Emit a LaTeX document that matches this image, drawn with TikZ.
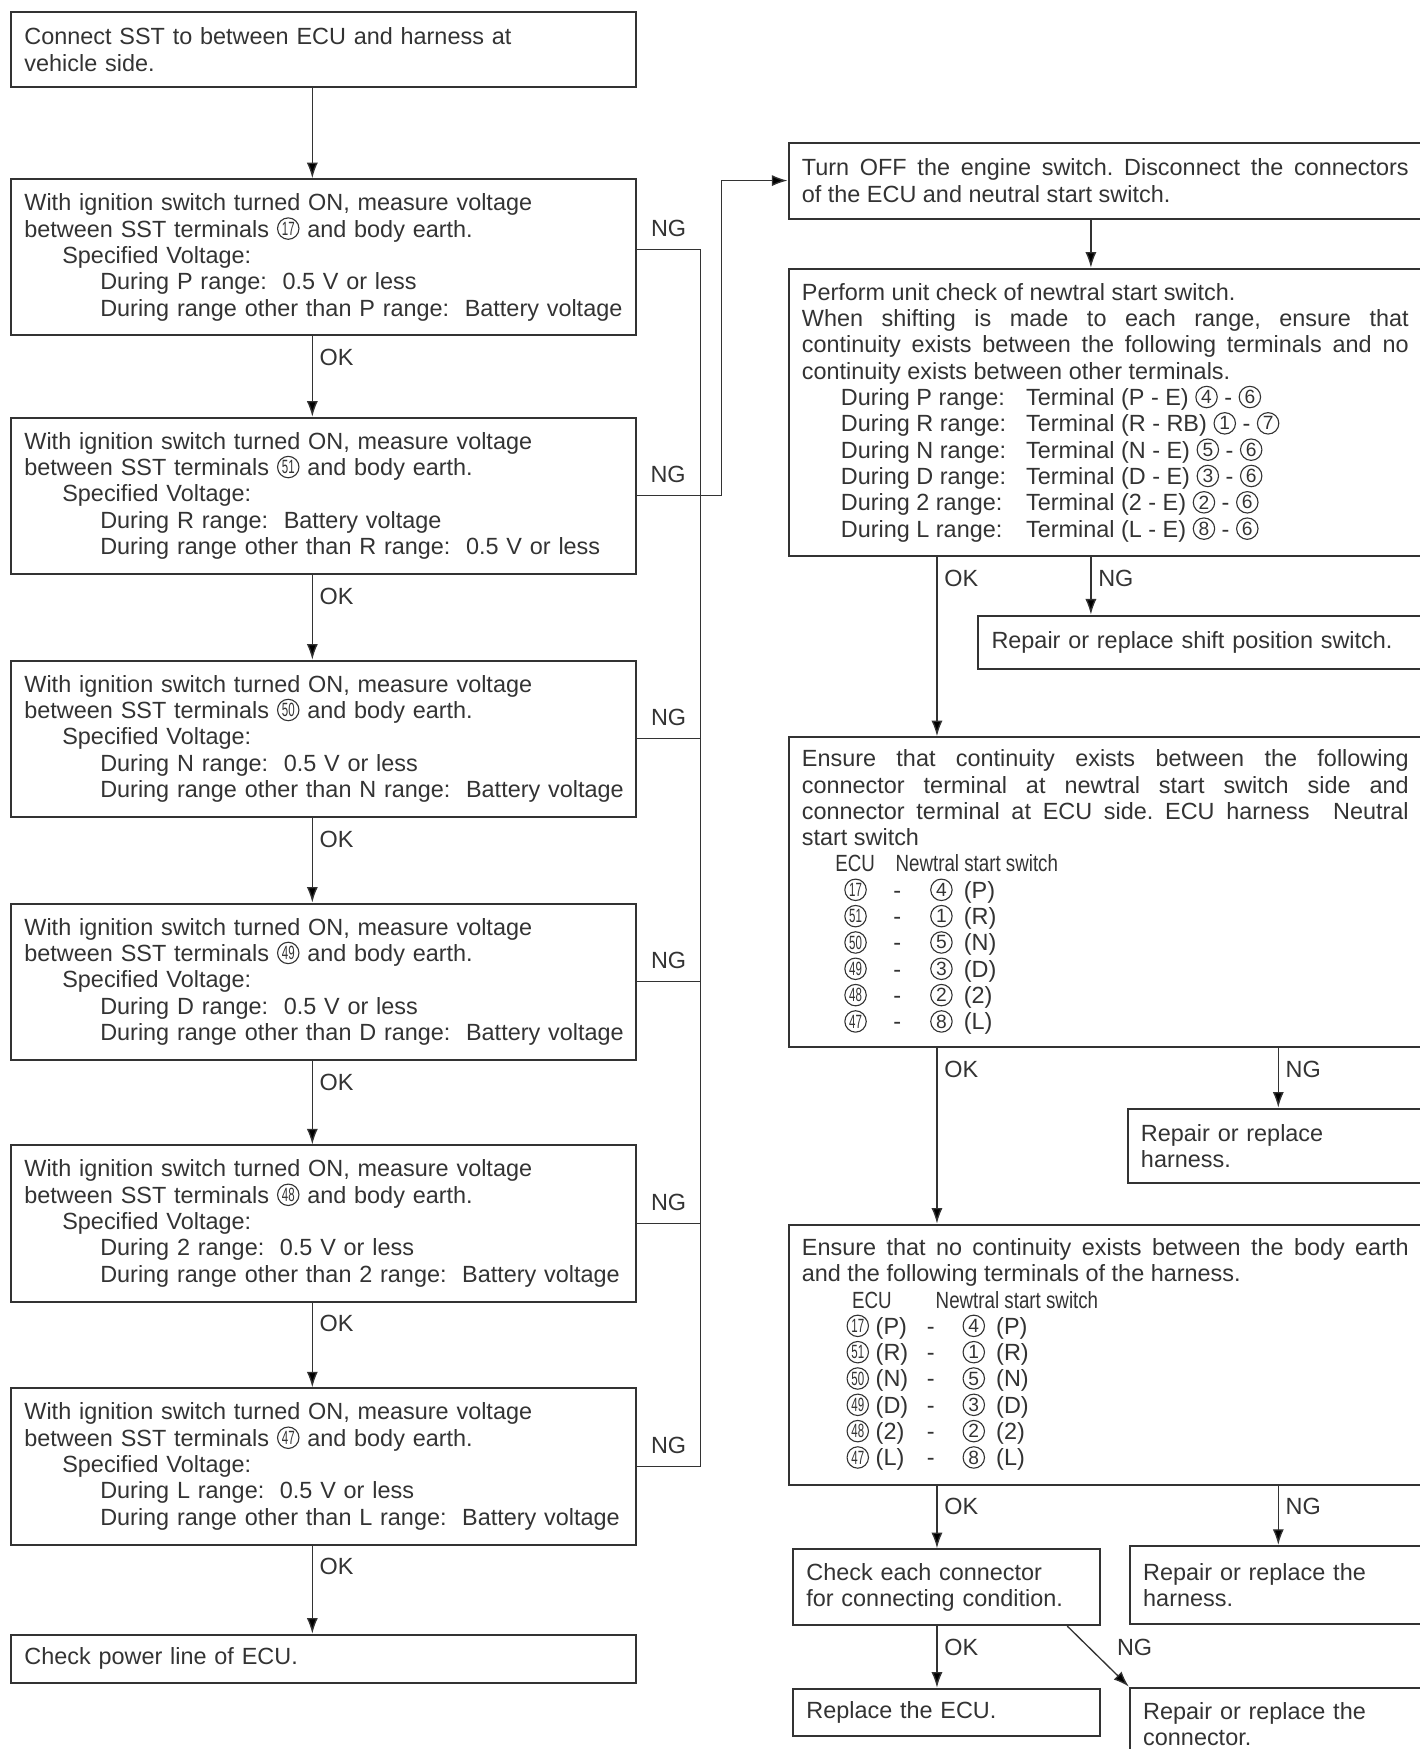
\documentclass[tikz,border=0pt]{standalone}
\usepackage{fontspec}
\setmainfont{Liberation Sans}
\usepackage{graphicx}
\usetikzlibrary{arrows.meta,positioning}
\setlength{\parindent}{0pt}
\frenchspacing

\newcommand\cnum[1]{\tikz[baseline={([yshift=-3.8pt]cn.center)}]\node[circle,draw,line width=0.5pt,inner sep=0pt,minimum size=9.6pt] (cn) {\fontsize{8.6}{8.6}\selectfont\ifnum#1>9 \scalebox{0.6}[1]{#1}\else#1\fi};}
\newcommand\cond[1]{\scalebox{0.8}[1]{#1}}
\newcommand\rng[1]{\makebox[83pt][l]{During #1 range:}}
\newcommand\voltcheck[4]{With ignition switch turned ON, measure voltage\\%
between SST terminals \cnum{#1} and body earth.\\%
\hspace*{17pt}Specified Voltage:\\%
\hspace*{34pt}\mbox{During #2 range:\ \ #3}\\%
\hspace*{34pt}\mbox{During range other than #2 range:\ \ #4}}

\begin{document}
\begin{tikzpicture}[x=0.5pt,y=-0.5pt,>={Latex[length=7pt,width=5pt]},
  font=\fontsize{10.5}{11.8}\selectfont,
  stepbox/.style={draw=black!80,line width=0.9pt,anchor=north west,align=left,
    inner xsep=6pt,inner ysep=0pt,text=black!80},
  voltbox/.style={stepbox,text width=268pt,minimum height=70pt},
  flow/.style={->,line width=0.6pt,draw=black!80},
  wire/.style={line width=0.6pt,draw=black!80},
  tag/.style={text=black!80,inner xsep=3pt,inner ysep=5.5pt}]
  \useasboundingbox (0,0) rectangle (1273,1568);
  \clip (0,0) rectangle (1273,1568);

  % left column: voltage checks
  \node[stepbox,text width=268pt,minimum height=33.5pt] (sst) at (9,10)
    {Connect SST to between ECU and harness at\\vehicle side.};
  \node[voltbox,below=40.5pt of sst] (v17) {\voltcheck{17}{P}{0.5 V or less}{Battery voltage}};
  \node[voltbox,below=36pt of v17] (v51) {\voltcheck{51}{R}{Battery voltage}{0.5 V or less}};
  \node[voltbox,below=38pt of v51] (v50) {\voltcheck{50}{N}{0.5 V or less}{Battery voltage}};
  \node[voltbox,below=38pt of v50] (v49) {\voltcheck{49}{D}{0.5 V or less}{Battery voltage}};
  \node[voltbox,below=37.5pt of v49] (v48) {\voltcheck{48}{2}{0.5 V or less}{Battery voltage}};
  \node[voltbox,below=38pt of v48] (v47) {\voltcheck{47}{L}{0.5 V or less}{Battery voltage}};
  \node[stepbox,text width=268pt,minimum height=21.5pt,below=39.5pt of v47] (power)
    {Check power line of ECU.};

  % right column: switch and harness checks
  \node[stepbox,align=justify,text width=272pt,minimum height=34pt] (off) at (706,127)
    {Turn OFF the engine switch. Disconnect the connectors\linebreak of the ECU and neutral start switch.};
  \node[stepbox,align=justify,text width=272pt,minimum height=129pt] (unit) at (706,240)
    {Perform unit check of newtral start switch.\\
     When shifting is made to each range, ensure that\linebreak
     continuity exists between the following terminals and no\linebreak
     continuity exists between other terminals.\\
     \hspace*{17.5pt}\rng{P}Terminal (P - E) \cnum{4} - \cnum{6}\\
     \hspace*{17.5pt}\rng{R}Terminal (R - RB) \cnum{1} - \cnum{7}\\
     \hspace*{17.5pt}\rng{N}Terminal (N - E) \cnum{5} - \cnum{6}\\
     \hspace*{17.5pt}\rng{D}Terminal (D - E) \cnum{3} - \cnum{6}\\
     \hspace*{17.5pt}\rng{2}Terminal (2 - E) \cnum{2} - \cnum{6}\\
     \hspace*{17.5pt}\rng{L}Terminal (L - E) \cnum{8} - \cnum{6}};
  \node[stepbox,text width=187pt,minimum height=24pt] (shiftsw) at (876,551)
    {Repair or replace shift position switch.};
  \node[stepbox,align=justify,text width=272pt,minimum height=139pt] (cont) at (706,660)
    {Ensure that continuity exists between the following\linebreak
     connector terminal at newtral start switch side and\linebreak
     connector terminal at ECU side. ECU harness\ \ Neutral\linebreak
     start switch\\
     \hspace*{15pt}\makebox[27pt][l]{\cond{ECU}}\cond{Newtral start switch}\\
     \hspace*{19pt}\makebox[22pt][l]{\cnum{17}}\makebox[16.5pt][l]{-}\cnum{4}\hspace{5pt}(P)\\
     \hspace*{19pt}\makebox[22pt][l]{\cnum{51}}\makebox[16.5pt][l]{-}\cnum{1}\hspace{5pt}(R)\\
     \hspace*{19pt}\makebox[22pt][l]{\cnum{50}}\makebox[16.5pt][l]{-}\cnum{5}\hspace{5pt}(N)\\
     \hspace*{19pt}\makebox[22pt][l]{\cnum{49}}\makebox[16.5pt][l]{-}\cnum{3}\hspace{5pt}(D)\\
     \hspace*{19pt}\makebox[22pt][l]{\cnum{48}}\makebox[16.5pt][l]{-}\cnum{2}\hspace{5pt}(2)\\
     \hspace*{19pt}\makebox[22pt][l]{\cnum{47}}\makebox[16.5pt][l]{-}\cnum{8}\hspace{5pt}(L)};
  \node[stepbox,text width=120pt,minimum height=33.5pt] (harn) at (1010,993)
    {Repair or replace\\harness.};
  \node[stepbox,align=justify,text width=272pt,minimum height=116.5pt] (earth) at (706,1097)
    {Ensure that no continuity exists between the body earth\linebreak
     and the following terminals of the harness.\\
     \hspace*{22.5pt}\makebox[37.5pt][l]{\cond{ECU}}\cond{Newtral start switch}\\
     \hspace*{20pt}\makebox[36pt][l]{\cnum{17}\hspace{3pt}(P)}\makebox[16pt][l]{-}\cnum{4}\hspace{5pt}(P)\\
     \hspace*{20pt}\makebox[36pt][l]{\cnum{51}\hspace{3pt}(R)}\makebox[16pt][l]{-}\cnum{1}\hspace{5pt}(R)\\
     \hspace*{20pt}\makebox[36pt][l]{\cnum{50}\hspace{3pt}(N)}\makebox[16pt][l]{-}\cnum{5}\hspace{5pt}(N)\\
     \hspace*{20pt}\makebox[36pt][l]{\cnum{49}\hspace{3pt}(D)}\makebox[16pt][l]{-}\cnum{3}\hspace{5pt}(D)\\
     \hspace*{20pt}\makebox[36pt][l]{\cnum{48}\hspace{3pt}(2)}\makebox[16pt][l]{-}\cnum{2}\hspace{5pt}(2)\\
     \hspace*{20pt}\makebox[36pt][l]{\cnum{47}\hspace{3pt}(L)}\makebox[16pt][l]{-}\cnum{8}\hspace{5pt}(L)};
  \node[stepbox,text width=125.5pt,minimum height=34pt] (conchk) at (710,1388)
    {Check each connector\\for connecting condition.};
  \node[stepbox,text width=119pt,minimum height=35pt] (harn2) at (1012,1385)
    {Repair or replace the\\harness.};
  \node[stepbox,text width=125.5pt,minimum height=21pt] (ecu) at (710,1513)
    {Replace the ECU.};
  \node[stepbox,text width=119pt,minimum height=33pt] (conn) at (1012,1512)
    {Repair or replace the\\connector.};

  \coordinate (ax) at (280,0);
  \coordinate (bus) at (628,0);
  \coordinate (jog) at (647,0);
  \coordinate (okx) at (840,0);
  \coordinate (ngx) at (978,0);
  \coordinate (ngy) at (1146,0);

  % OK chain on the left
  \draw[flow] (sst.south -| ax) -- (v17.north -| ax);
  \draw[flow] (v17.south -| ax) -- node[tag,pos=0,anchor=north west] (ok1) {OK} (v51.north -| ax);
  \draw[flow] (v51.south -| ax) -- node[tag,pos=0,anchor=north west] (ok2) {OK} (v50.north -| ax);
  \draw[flow] (v50.south -| ax) -- node[tag,pos=0,anchor=north west] (ok3) {OK} (v49.north -| ax);
  \draw[flow] (v49.south -| ax) -- node[tag,pos=0,anchor=north west] (ok4) {OK} (v48.north -| ax);
  \draw[flow] (v48.south -| ax) -- node[tag,pos=0,anchor=north west] (ok5) {OK} (v47.north -| ax);
  \draw[flow] (v47.south -| ax) -- node[tag,pos=0,anchor=north west] (ok6) {OK} (power.north -| ax);

  % NG bus
  \draw[wire] ([yshift=3.5pt]v17.east) -- node[tag,above] (ng1) {NG} ([yshift=3.5pt]v17.east -| bus) -- (v47.east -| bus);
  \draw[wire] (v50.east) -- node[tag,above] (ng3) {NG} (v50.east -| bus);
  \draw[wire] (v49.east) -- node[tag,above] (ng4) {NG} (v49.east -| bus);
  \draw[wire] (v48.east) -- node[tag,above] (ng5) {NG} (v48.east -| bus);
  \draw[wire] (v47.east) -- node[tag,above] (ng6) {NG} (v47.east -| bus);
  \draw[flow] (v51.east) -- node[tag,above,pos=0.37] (ng2) {NG} (v51.east -| jog) |- (off.west);

  % right column
  \draw[flow] (off.south -| ngx) -- (unit.north -| ngx);
  \draw[flow] (unit.south -| okx) -- node[tag,pos=0,anchor=north west] (ok7) {OK} (cont.north -| okx);
  \draw[flow] (unit.south -| ngx) -- node[tag,pos=0,anchor=north west] (ng7) {NG} (shiftsw.north -| ngx);
  \draw[flow] (cont.south -| okx) -- node[tag,pos=0,anchor=north west] (ok8) {OK} (earth.north -| okx);
  \draw[flow] (cont.south -| ngy) -- node[tag,pos=0,anchor=north west] (ng8) {NG} (harn.north -| ngy);
  \draw[flow] (earth.south -| okx) -- node[tag,pos=0,anchor=north west] (ok9) {OK} (conchk.north -| okx);
  \draw[flow] (earth.south -| ngy) -- node[tag,pos=0,anchor=north west] (ng9) {NG} (harn2.north -| ngy);
  \draw[flow] (conchk.south -| okx) -- node[tag,pos=0,anchor=north west] (ok10) {OK} (ecu.north -| okx);
  \draw[flow] ([xshift=-15pt]conchk.south east) -- node[tag,pos=0,anchor=north west,xshift=19pt] (ng10) {NG} (conn.north west);
\end{tikzpicture}
\end{document}
